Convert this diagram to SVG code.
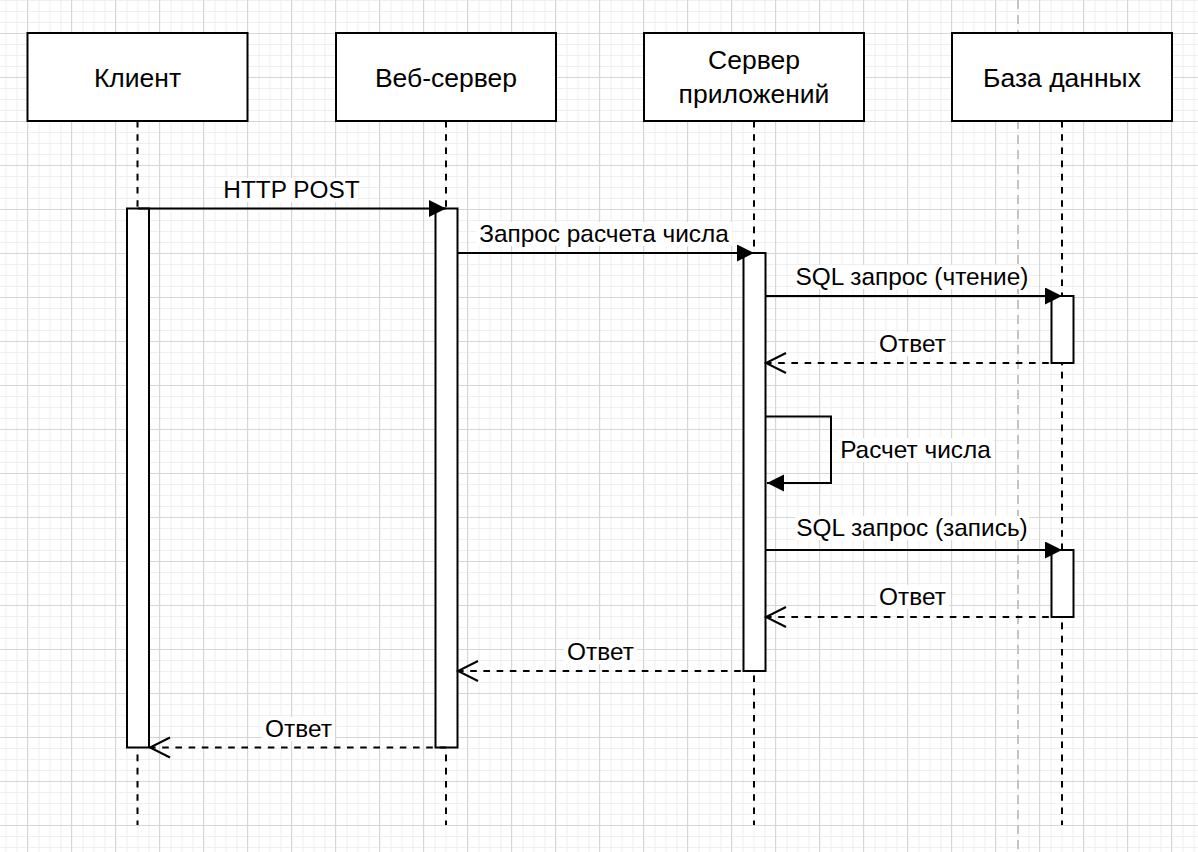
<svg xmlns="http://www.w3.org/2000/svg" width="1198" height="852" viewBox="0 0 1198 852">
  <defs>
    <pattern id="minor" x="5.5" y="0" width="11" height="11" patternUnits="userSpaceOnUse">
      <path d="M0.5 0V11M0 0.5H11" fill="none" stroke="#efefef" stroke-width="1"/>
    </pattern>
    <pattern id="major" x="27" y="33" width="44" height="44" patternUnits="userSpaceOnUse">
      <path d="M0.5 0V44M0 0.5H44" fill="none" stroke="#d6d6d6" stroke-width="1"/>
    </pattern>
    <marker id="solidArrow" markerUnits="userSpaceOnUse" markerWidth="20" markerHeight="20" refX="17" refY="8.5" orient="auto">
      <path d="M0 0L17 8.5L0 17Z" fill="#000"/>
    </marker>
    <marker id="openArrow" markerUnits="userSpaceOnUse" markerWidth="24" markerHeight="24" refX="21" refY="11" orient="auto">
      <path d="M1 1L21 11L1 21" fill="none" stroke="#000" stroke-width="2"/>
    </marker>
  </defs>
  <style>
    .box { fill: #fff; stroke: #000; stroke-width: 2; }
    .bar { fill: #fff; stroke: #000; stroke-width: 2; }
    .life { stroke: #000; stroke-width: 2; stroke-dasharray: 6.6 6.6; fill: none; }
    .msg { stroke: #000; stroke-width: 2; fill: none; }
    .ret { stroke: #000; stroke-width: 2; fill: none; stroke-dasharray: 6.6 6.6; }
    .title { font-family: "Liberation Sans", Arial, Helvetica, sans-serif; font-size: 26.5px; fill: #000; text-anchor: middle; }
    .lbl { font-family: "Liberation Sans", Arial, Helvetica, sans-serif; font-size: 24.4px; fill: #000; text-anchor: middle; }
    .lblbg { fill: #fff; }
  </style>

  <rect x="0" y="0" width="1198" height="852" fill="#fff"/>
  <rect x="0" y="0" width="1198" height="852" fill="url(#minor)"/>
  <rect x="0" y="0" width="1198" height="852" fill="url(#major)"/>
  <line x1="1018" y1="0" x2="1018" y2="852" stroke="#c4c4c4" stroke-width="2" stroke-dasharray="9 6"/>

  <g id="node-client">
    <line class="life" x1="137.5" y1="121" x2="137.5" y2="825"/>
    <rect class="box" x="27.5" y="33" width="220" height="88"/>
    <text class="title" x="137.5" y="86.5">Клиент</text>
  </g>
  <g id="node-web">
    <line class="life" x1="446" y1="121" x2="446" y2="825"/>
    <rect class="box" x="336" y="33" width="220" height="88"/>
    <text class="title" x="446" y="86.5">Веб-сервер</text>
  </g>
  <g id="node-app">
    <line class="life" x1="754" y1="121" x2="754" y2="825"/>
    <rect class="box" x="644" y="33" width="220" height="88"/>
    <text class="title" x="754" y="69">Сервер</text>
    <text class="title" x="754" y="102.5">приложений</text>
  </g>
  <g id="node-db">
    <line class="life" x1="1062" y1="121" x2="1062" y2="825"/>
    <rect class="box" x="952" y="33" width="220" height="88"/>
    <text class="title" x="1062" y="86.5">База данных</text>
  </g>

  <g id="act-client"><rect class="bar" x="127" y="208.5" width="22" height="539"/></g>
  <g id="act-web"><rect class="bar" x="435.5" y="208.5" width="22" height="539"/></g>
  <g id="act-app"><rect class="bar" x="743.5" y="253" width="22" height="418"/></g>
  <g id="act-db-1"><rect class="bar" x="1051.5" y="296" width="22" height="67"/></g>
  <g id="act-db-2"><rect class="bar" x="1051.5" y="550" width="22" height="67"/></g>

  <g id="connectors">
    <line class="msg" x1="138" y1="208.5" x2="446" y2="208.5" marker-end="url(#solidArrow)"/>
    <rect class="lblbg" x="224" y="178" width="134" height="24"/>
    <text class="lbl" x="291.5" y="198">HTTP POST</text>

    <line class="msg" x1="457.5" y1="253" x2="754" y2="253" marker-end="url(#solidArrow)"/>
    <rect class="lblbg" x="476" y="222" width="256" height="24"/>
    <text class="lbl" x="604" y="242">Запрос расчета числа</text>

    <line class="msg" x1="765.5" y1="296" x2="1062" y2="296" marker-end="url(#solidArrow)"/>
    <rect class="lblbg" x="795" y="265" width="234" height="24"/>
    <text class="lbl" x="912" y="285">SQL запрос (чтение)</text>

    <line class="ret" x1="1062" y1="363" x2="766" y2="363" marker-end="url(#openArrow)"/>
    <rect class="lblbg" x="876" y="332" width="73" height="24"/>
    <text class="lbl" x="912.5" y="352">Ответ</text>

    <polyline class="msg" points="765.5,416.5 831,416.5 831,483 767,483" marker-end="url(#solidArrow)"/>
    <rect class="lblbg" x="838" y="438" width="155" height="24"/>
    <text class="lbl" x="915.5" y="458">Расчет числа</text>

    <line class="msg" x1="765.5" y1="550" x2="1062" y2="550" marker-end="url(#solidArrow)"/>
    <rect class="lblbg" x="795" y="516" width="234" height="24"/>
    <text class="lbl" x="912" y="536">SQL запрос (запись)</text>

    <line class="ret" x1="1062" y1="617" x2="766" y2="617" marker-end="url(#openArrow)"/>
    <rect class="lblbg" x="876" y="585" width="73" height="24"/>
    <text class="lbl" x="912.5" y="605">Ответ</text>

    <line class="ret" x1="754" y1="671" x2="458" y2="671" marker-end="url(#openArrow)"/>
    <rect class="lblbg" x="564" y="640" width="73" height="24"/>
    <text class="lbl" x="600.5" y="660">Ответ</text>

    <line class="ret" x1="446" y1="747.5" x2="150" y2="747.5" marker-end="url(#openArrow)"/>
    <rect class="lblbg" x="262" y="717" width="73" height="24"/>
    <text class="lbl" x="298.5" y="737">Ответ</text>
  </g>
</svg>
